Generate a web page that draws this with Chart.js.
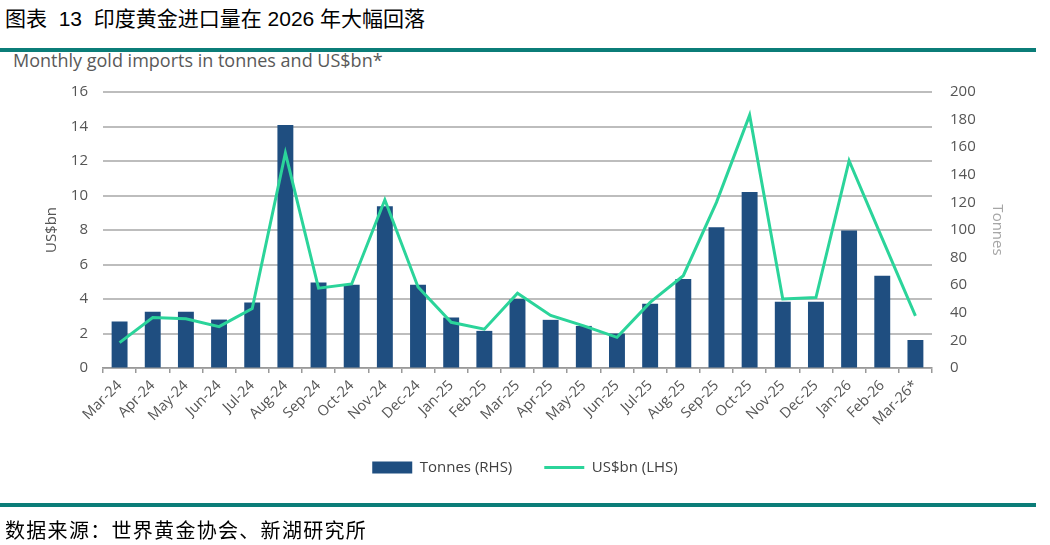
<!DOCTYPE html>
<html>
<head>
<meta charset="utf-8">
<script src="https://cdn.jsdelivr.net/npm/chart.js@4.4.1/dist/chart.umd.min.js"></script>
<style>
  html, body { margin: 0; padding: 0; background: #fff; }
  body { width: 1050px; height: 545px; position: relative; overflow: hidden; }
  .title { position: absolute; left: 5px; top: 2px; font: 21px "Liberation Sans", "Noto Sans CJK SC", sans-serif; color: #000; white-space: pre; }
  .rule { position: absolute; left: 0; width: 1036px; height: 4px; background: #0b7d78; }
  .sub { position: absolute; left: 13px; top: 48px; font: 18px "Open Sans", sans-serif; color: #595959; white-space: pre; }
  .source { position: absolute; left: 5px; top: 515px; font: 20px "Noto Sans CJK SC", sans-serif; letter-spacing: 1.3px; color: #000; }
  #wrap { position: absolute; left: 0; top: 0; width: 1050px; height: 545px; }
</style>
</head>
<body>
<div class="title">图表  13  印度黄金进口量在 2026 年大幅回落</div>
<div class="rule" style="top:48px"></div>
<div class="sub">Monthly gold imports in tonnes and US$bn*</div>
<div id="wrap"><canvas id="chart"></canvas></div>
<div class="rule" style="top:503px"></div>
<div class="source">数据来源：世界黄金协会、新湖研究所</div>

<script>
const months = [
  "Mar-24", "Apr-24", "May-24", "Jun-24", "Jul-24", "Aug-24", "Sep-24",
  "Oct-24", "Nov-24", "Dec-24", "Jan-25", "Feb-25", "Mar-25", "Apr-25",
  "May-25", "Jun-25", "Jul-25", "Aug-25", "Sep-25", "Oct-25", "Nov-25",
  "Dec-25", "Jan-26", "Feb-26", "Mar-26*"
];

// tonnes, right axis
const tonnes = [
  33.7, 40.7, 40.7, 35.1, 47.5, 176, 62, 60.4, 117.3, 60.4, 36.6, 26.9, 50,
  34.9, 30.5, 25, 46.5, 64.5, 102, 127.5, 48, 48, 99.6, 66.8, 20.3
];

// US$bn, left axis
const usdBn = [
  1.47, 2.93, 2.85, 2.4, 3.45, 12.47, 4.63, 4.87, 9.75, 4.7, 2.65, 2.25, 4.33,
  3.05, 2.44, 1.78, 3.8, 5.35, 9.6, 14.66, 4.0, 4.08, 12.02, 7.5, 3.02
];

const barColor = "#1f4e80";
const lineColor = "#2bd49a";
const tickColor = "#555555";

const chart = new Chart(document.getElementById("chart"), {
  type: "bar",
  data: {
    labels: months,
    datasets: [
      {
        label: "Tonnes (RHS)",
        data: tonnes,
        backgroundColor: barColor,
        yAxisID: "y1",
        categoryPercentage: 1,
        barPercentage: 0.48,
        order: 1,
      },
      {
        type: "line",
        label: "US$bn (LHS)",
        data: usdBn,
        borderColor: lineColor,
        borderWidth: 3,
        pointRadius: 0,
        tension: 0,
        yAxisID: "y",
        order: 0,
      },
    ],
  },
  options: {
    responsive: true,
    maintainAspectRatio: false,
    animation: false,
    layout: { padding: { top: 92, bottom: 60, left: 0, right: 0 } },
    plugins: {
      tooltip: { enabled: false },
      legend: {
        position: "bottom",
        labels: {
          font: { family: "Open Sans", size: 15 },
          color: "#404040",
          usePointStyle: true,
          pointStyleWidth: 40,
          boxHeight: 12,
          padding: 32,
          generateLabels: () => [
            { text: "Tonnes (RHS)", fillStyle: barColor, strokeStyle: barColor, lineWidth: 0, pointStyle: "rect", datasetIndex: 0, hidden: false, fontColor: "#404040" },
            { text: "US$bn (LHS)", fillStyle: lineColor, strokeStyle: lineColor, lineWidth: 3, pointStyle: "line", datasetIndex: 1, hidden: false, fontColor: "#404040" },
          ],
        },
      },
    },
    scales: {
      x: {
        offset: true,
        grid: { display: true, drawOnChartArea: false, drawTicks: true, tickLength: 5, color: "#999", offset: true, lineWidth: 1.5 },
        border: { display: true, color: "#999", width: 1.5 },
        ticks: {
          minRotation: 45, maxRotation: 45, autoSkip: false, padding: 4,
          font: { family: "Open Sans", size: 14.5 }, color: tickColor,
        },
        afterFit: (s) => { s.height = 60; },
      },
      y: {
        position: "left",
        min: 0, max: 16,
        ticks: { stepSize: 2, padding: 15, font: { family: "Open Sans", size: 15 }, color: tickColor },
        grid: { color: "#bdbdbd", lineWidth: 2, drawTicks: false },
        border: { display: false },
        title: { display: true, text: "US$bn", font: { family: "Open Sans", size: 15 }, color: tickColor, padding: { top: 43, bottom: 0 } },
        afterFit: (s) => { s.width = 103; },
      },
      y1: {
        position: "right",
        min: 0, max: 200,
        ticks: { stepSize: 20, padding: 18, font: { family: "Open Sans", size: 15 }, color: tickColor },
        grid: { drawOnChartArea: false, drawTicks: false },
        border: { display: false },
        title: { display: true, text: "Tonnes", font: { family: "Open Sans", size: 15 }, color: "#a6a6a6", padding: { top: 44, bottom: 0 } },
        afterFit: (s) => { s.width = 118; },
      },
    },
  },
});
</script>
</body>
</html>
